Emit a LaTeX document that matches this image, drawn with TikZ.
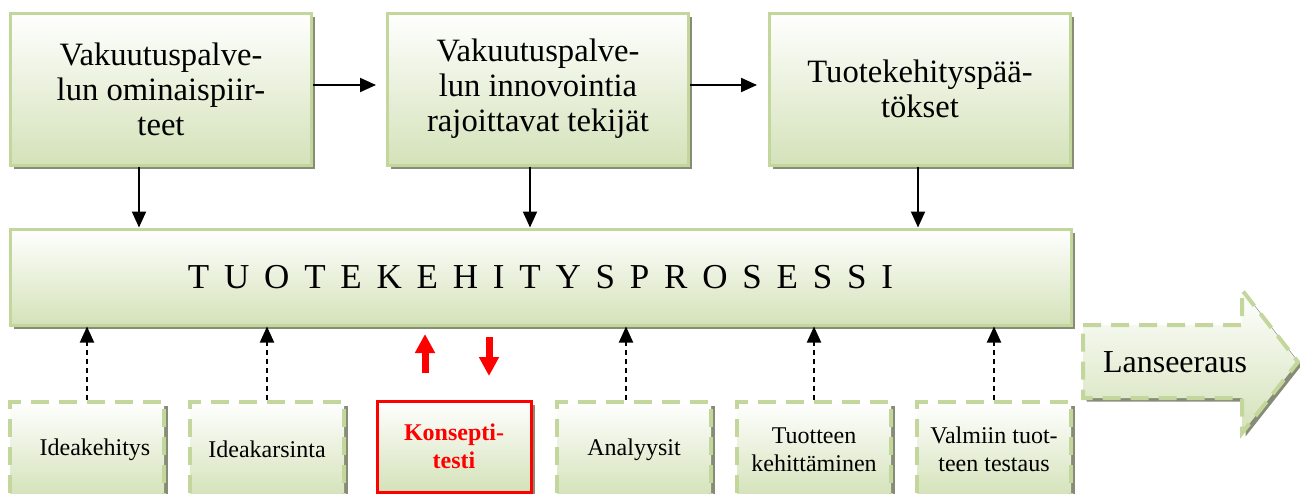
\documentclass[tikz,border=0pt]{standalone}
\usepackage{fontspec}
\setmainfont{Liberation Serif}
\usetikzlibrary{arrows.meta,shadows}
\definecolor{boxline}{RGB}{195,214,155}
\definecolor{boxfill}{RGB}{212,226,185}
\definecolor{boxshade}{RGB}{135,140,118}
\begin{document}
\begin{tikzpicture}[
        x=0.5pt, y=-0.5pt,
        shaded/.style={top color=white, bottom color=boxfill,
            drop shadow={shadow xshift=1.75pt, shadow yshift=-1.75pt, fill=boxshade, opacity=1}},
        topbox/.style={shaded, draw=boxline, line width=1.5pt, minimum width=150.5pt, minimum height=76pt, align=center, font=\fontsize{16.3}{17.5}\selectfont},
        procbox/.style={topbox, minimum width=530.5pt, minimum height=48pt, font=\fontsize{17.5}{21}\selectfont},
        stagebox/.style={shaded, draw=boxline, line width=2pt, dash pattern=on 9pt off 5pt, minimum width=77pt, minimum height=47.5pt, align=center, font=\fontsize{12}{14}\selectfont},
        konsbox/.style={stagebox, solid, draw=red, line width=1.5pt, minimum height=45.5pt, text=red, font=\fontsize{12}{14}\selectfont\bfseries},
        arr/.style={draw, line width=1pt, -{Triangle[length=8pt,width=7pt]}},
        dasharr/.style={arr, dash pattern=on 2.5pt off 2pt},
        redarr/.style={draw=red, line width=3.5pt, -{Triangle[length=9.5pt,width=9.5pt]}},
    ]
    \useasboundingbox (0,0) rectangle (1300,493);
    % top row
    \node[topbox](omin) at (161,89){Vakuutuspalve-\\lun ominaispiir-\\teet};
    \node[topbox](rajo) at (538,89){Vakuutuspalve-\\lun innovointia\\rajoittavat tekijät};
    \node[topbox](paat) at (920,89){Tuotekehityspää-\\tökset};
    % process
    \node[procbox](proc) at (540.5,277){\spaceskip=7.4pt T U O T E K E H I T Y S P R O S E S S I};
    % stages
    \node[stagebox](ideak) at (87,449.5){\hspace*{8pt}Ideakehitys};
    \node[stagebox](karsi) at (267,449.5){Ideakarsinta};
    \node[konsbox](kons) at (454,446.5){Konsepti-\\testi};
    \node[stagebox](anal) at (634,449.5){Analyysit};
    \node[stagebox](kehi) at (814,449.5){Tuotteen\\kehittäminen};
    \node[stagebox](test) at (994,449.5){Valmiin tuot-\\teen testaus};
    % launch
    \path[shaded, draw=boxline, line width=2pt, dash pattern=on 9pt off 5pt]
        (1083,325) -- (1242,325) -- (1242,290) -- (1298,362) -- (1242,433) -- (1242,398) -- (1083,398) -- cycle;
    \node[font=\fontsize{16}{19}\selectfont](lans) at (1175,362){Lanseeraus};
    % connectors
    \draw[arr, shorten >=5pt] ([yshift=2pt]omin.east) -- ([yshift=2pt]rajo.west);
    \draw[arr, shorten >=5.5pt] ([yshift=2pt]rajo.east) -- ([yshift=2pt]paat.west);
    \draw[arr] ([xshift=-11pt]omin.south) -- ([xshift=-11pt]omin.south |- proc.north);
    \draw[arr] ([xshift=-4pt]rajo.south) -- ([xshift=-4pt]rajo.south |- proc.north);
    \draw[arr] ([xshift=-1pt]paat.south) -- ([xshift=-1pt]paat.south |- proc.north);
    \draw[dasharr] (ideak.north) -- (ideak.north |- proc.south);
    \draw[dasharr] (karsi.north) -- (karsi.north |- proc.south);
    \draw[dasharr] ([xshift=-4pt]anal.north) -- ([xshift=-4pt]anal.north |- proc.south);
    \draw[dasharr] (kehi.north) -- (kehi.north |- proc.south);
    \draw[dasharr] (test.north) -- (test.north |- proc.south);
    \coordinate (kup1) at (425,373);
    \coordinate (kup2) at (425,334);
    \coordinate (kdn1) at (489,337);
    \coordinate (kdn2) at (489,376);
    \draw[redarr] (kup1) -- (kup2);
    \draw[redarr] (kdn1) -- (kdn2);
\end{tikzpicture}
\end{document}
